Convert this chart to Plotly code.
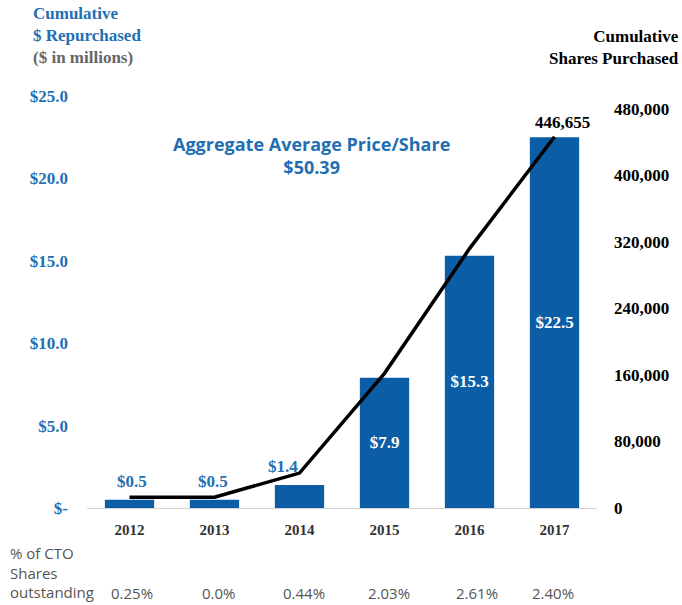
import plotly.graph_objects as go

# data
years = ["2012", "2013", "2014", "2015", "2016", "2017"]
repurchased = [0.5, 0.5, 1.4, 7.9, 15.3, 22.5]            # $ millions, cumulative
repurchased_labels = ["$0.5", "$0.5", "$1.4", "$7.9", "$15.3", "$22.5"]
shares = [13000, 13000, 42000, 162000, 312000, 446655]    # cumulative shares purchased
shares_end_label = "446,655"
pct_outstanding = ["0.25%", "0.0%", "0.44%", "2.03%", "2.61%", "2.40%"]

left_ticks = [0, 5, 10, 15, 20, 25]
left_ticktext = ["$-", "$5.0", "$10.0", "$15.0", "$20.0", "$25.0"]
right_ticks = [0, 80000, 160000, 240000, 320000, 400000, 480000]

BLUE = "#0b5ea6"
LABEL_BLUE = "#1f6fb2"
SERIF = "Liberation Serif"
SANS = "Open Sans"

# plot area in pixels
L, R, T, B = 87, 597, 96, 508
PW, PH = R - L, B - T


def px_x(x):
    return (x - L) / PW


def px_y(y):
    return (B - y) / PH


fig = go.Figure()

# big bars carry their value inside, small ones get a label above (annotations below)
inside_text = [lbl if v >= 5 else "" for v, lbl in zip(repurchased, repurchased_labels)]

fig.add_trace(go.Bar(
    x=years, y=repurchased,
    marker=dict(color=BLUE, line=dict(width=0)),
    width=0.58,
    text=inside_text,
    textposition="inside",
    insidetextanchor="middle",
    textangle=0,
    insidetextfont=dict(family=SERIF, size=17, color="white"),
    texttemplate="<b>%{text}</b>",
    yaxis="y",
    showlegend=False,
))

fig.add_trace(go.Scatter(
    x=years, y=shares,
    mode="lines",
    line=dict(color="black", width=3.5),
    cliponaxis=False,
    yaxis="y2",
    showlegend=False,
))

fig.update_layout(
    width=682, height=605,
    margin=dict(l=L, r=682 - R, t=T, b=605 - B, autoexpand=False),
    paper_bgcolor="white", plot_bgcolor="white",
    xaxis=dict(
        type="category",
        range=[-0.5, 5.5], autorange=False,
        categoryarray=years,
        tickvals=years, ticktext=[f"<b>{y}</b>" for y in years],
        showgrid=False,
        showline=True, linecolor="#d3d3d3", linewidth=1,
        ticks="",
        tickfont=dict(family=SERIF, size=15, color="#333333"),
        ticklabelstandoff=8,
    ),
    yaxis=dict(
        range=[0, 25], autorange=False,
        tickvals=left_ticks, ticktext=[f"<b>{t}</b>" for t in left_ticktext],
        tickfont=dict(family=SERIF, size=17, color=LABEL_BLUE),
        showgrid=False, zeroline=False, showline=False,
        ticklabelstandoff=18,
    ),
    yaxis2=dict(
        overlaying="y", side="right",
        range=[0, 495600], autorange=False,
        tickvals=right_ticks,
        ticktext=[f"<b>{v:,}</b>" for v in right_ticks],
        tickfont=dict(family=SERIF, size=17, color="black"),
        showgrid=False, zeroline=False, showline=False,
        ticklabelstandoff=16,
    ),
)

# labels above the small bars
small_label_shift = [2, -2, -17]
for i, (v, lbl) in enumerate(zip(repurchased, repurchased_labels)):
    if v < 5:
        fig.add_annotation(
            x=i, y=v, xref="x", yref="y", yanchor="bottom",
            xshift=small_label_shift[i], yshift=7,
            text=f"<b>{lbl}</b>", showarrow=False,
            font=dict(family=SERIF, size=17, color=LABEL_BLUE),
        )

# end value of the shares line
fig.add_annotation(
    x=len(years) - 1, y=shares[-1], xref="x", yref="y2",
    yanchor="bottom", xshift=8, yshift=3,
    text=f"<b>{shares_end_label}</b>", showarrow=False,
    font=dict(family=SERIF, size=17, color="black"),
)

# axis titles
fig.add_annotation(
    xref="paper", yref="paper", x=px_x(31), y=px_y(2),
    xanchor="left", yanchor="top", align="left", showarrow=False,
    text="<b>Cumulative<br>$ Repurchased<br><span style='color:#666666'>($ in millions)</span></b>",
    font=dict(family=SERIF, size=17, color=LABEL_BLUE),
)
fig.add_annotation(
    xref="paper", yref="paper", x=px_x(681), y=px_y(25),
    xanchor="right", yanchor="top", align="right", showarrow=False,
    text="<b>Cumulative<br>Shares Purchased</b>",
    font=dict(family=SERIF, size=17, color="black"),
)
# price annotation
fig.add_annotation(
    xref="paper", yref="paper", x=px_x(311), y=px_y(155),
    xanchor="center", yanchor="middle", align="center", showarrow=False,
    text="<b>Aggregate Average Price/Share<br>$50.39</b>",
    font=dict(family=SANS, size=18, color=LABEL_BLUE),
)
# bottom row
fig.add_annotation(
    xref="paper", yref="paper", x=px_x(8), y=px_y(541),
    xanchor="left", yanchor="top", align="left", showarrow=False,
    text="% of CTO<br>Shares<br>outstanding",
    font=dict(family=SANS, size=15, color="#555555"),
)
pct_x = [132, 219, 304, 389, 477, 553]
for xp, p in zip(pct_x, pct_outstanding):
    fig.add_annotation(
        xref="paper", yref="paper", x=px_x(xp), y=px_y(593),
        xanchor="center", yanchor="middle", showarrow=False,
        text=p, font=dict(family=SANS, size=15, color="#555555"),
    )

fig.write_html("out.html", config={"displayModeBar": False},
               post_script="document.body.style.margin='0';")
